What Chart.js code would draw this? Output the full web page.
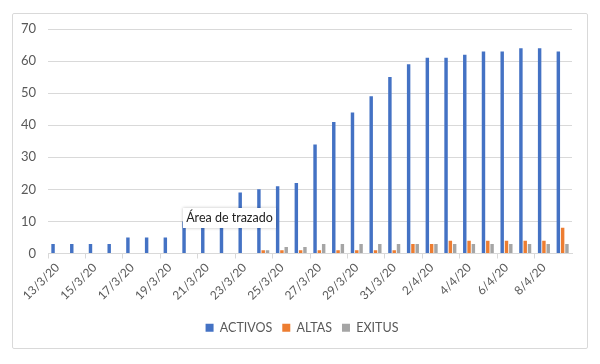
<!DOCTYPE html>
<html>
<head>
<meta charset="utf-8">
<script src="https://cdn.jsdelivr.net/npm/chart.js@4/dist/chart.umd.min.js"></script>
<style>
  html, body { margin: 0; padding: 0; background: #fff; }
  #wrap { position: relative; width: 600px; height: 364px; }
  #frame { position: absolute; left: 12px; top: 13px; width: 576px; height: 336px; border: 1px solid #d9d9d9; border-radius: 2px; box-sizing: border-box; pointer-events: none; }
  #tip { position: absolute; left: 183px; top: 208px; width: 93px; height: 20px; background: #fff; box-shadow: 0 0 3px rgba(0,0,0,0.25); font: 12.5px Lato, "Noto Sans", sans-serif; color: #222; line-height: 20px; text-align: center; white-space: nowrap; }
</style>
</head>
<body>
<div id="wrap">
  <canvas id="c" width="600" height="364"></canvas>
  <div id="frame"></div>
  <div id="tip">Área de trazado</div>
</div>
<script>
const categories = ["13/3/20","14/3/20","15/3/20","16/3/20","17/3/20","18/3/20","19/3/20","20/3/20","21/3/20","22/3/20","23/3/20","24/3/20","25/3/20","26/3/20","27/3/20","28/3/20","29/3/20","30/3/20","31/3/20","1/4/20","2/4/20","3/4/20","4/4/20","5/4/20","6/4/20","7/4/20","8/4/20","9/4/20"];
const activos = [3,3,3,3,5,5,5,10,12,14,19,20,21,22,34,41,44,49,55,59,61,61,62,63,63,64,64,63];
const altas   = [0,0,0,0,0,0,0,0,0,0,0,1,1,1,1,1,1,1,1,3,3,4,4,4,4,4,4,8];
const exitus  = [0,0,0,0,0,0,0,0,0,0,0,1,2,2,3,3,3,3,3,3,3,3,3,3,3,3,3,3];
const yTicks = [0,10,20,30,40,50,60,70];

const FONT = "Lato, 'Noto Sans', sans-serif";
const TXT = "#595959";
const GRID = "#d9d9d9";

const shiftLegend = {
  id: 'shiftLegend',
  afterLayout(chart) {
    const l = chart.legend;
    if (l) { l.left += 16; l.right += 16; }
  }
};

new Chart(document.getElementById('c'), {
  type: 'bar',
  data: {
    labels: categories,
    datasets: [
      { label: 'ACTIVOS', data: activos, backgroundColor: '#4472C4' },
      { label: 'ALTAS', data: altas, backgroundColor: '#ED7D31' },
      { label: 'EXITUS', data: exitus, backgroundColor: '#A5A5A5' }
    ]
  },
  plugins: [shiftLegend],
  options: {
    responsive: false,
    animation: false,
    events: [],
    layout: { padding: { left: 0, right: 28, top: 29, bottom: 20 } },
    datasets: { bar: { categoryPercentage: 0.69, barPercentage: 0.8 } },
    scales: {
      x: {
        offset: true,
        grid: {
          offset: true,
          drawOnChartArea: false,
          drawTicks: true,
          tickLength: 5,
          color: (ctx) => (ctx.index % 2 === 0 ? GRID : 'rgba(0,0,0,0)')
        },
        border: { display: true, color: GRID },
        ticks: {
          autoSkip: false,
          maxRotation: 45,
          minRotation: 45,
          padding: 2,
          color: TXT,
          font: { family: FONT, size: 12 },
          callback: (v, i) => (i % 2 === 0 ? categories[i] : '')
        },
        afterFit: (s) => { s.height = 58; }
      },
      y: {
        min: 0,
        max: 70,
        afterBuildTicks: (s) => { s.ticks = yTicks.map(v => ({ value: v })); },
        grid: { color: GRID, drawTicks: false },
        border: { display: false },
        ticks: { padding: 12, color: TXT, font: { family: FONT, size: 13 } },
        afterFit: (s) => { s.width = 48; }
      }
    },
    plugins: {
      tooltip: { enabled: false },
      legend: {
        position: 'bottom',
        labels: { boxWidth: 8, boxHeight: 8, padding: 10, color: TXT, font: { family: FONT, size: 12.5 } }
      }
    }
  }
});
</script>
</body>
</html>
